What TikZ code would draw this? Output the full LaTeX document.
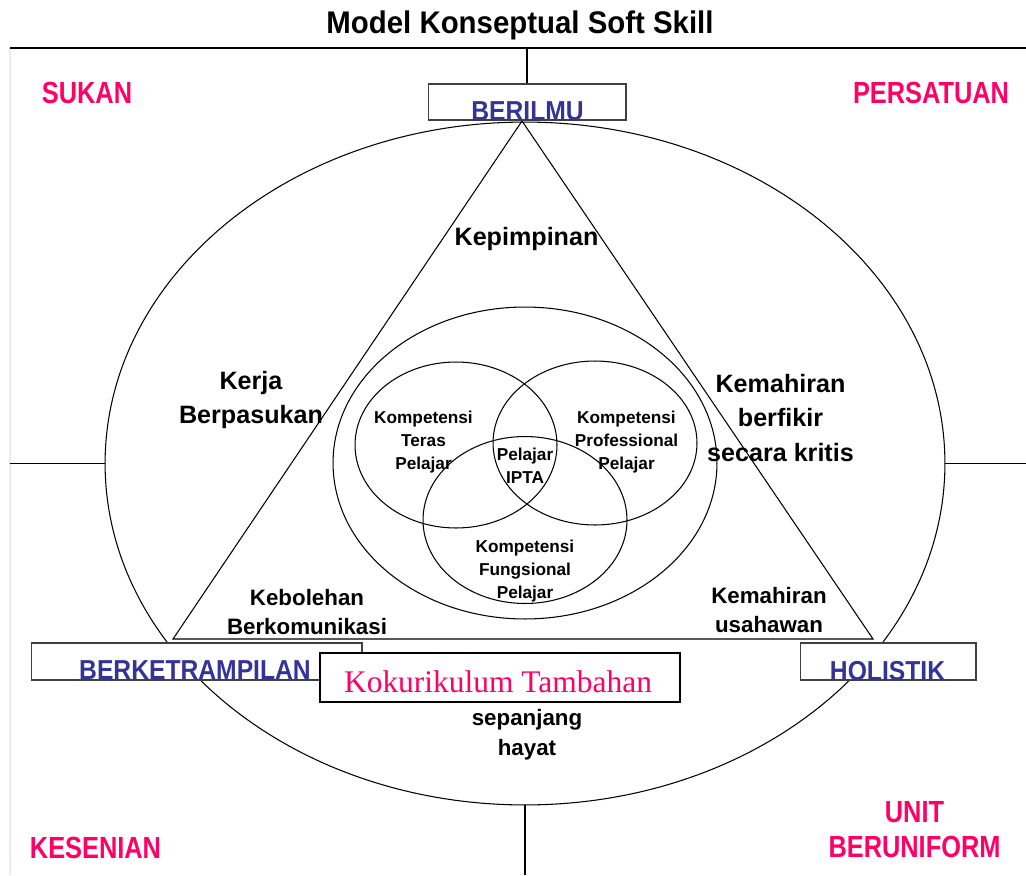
\documentclass[tikz,border=0pt]{standalone}
\usepackage{fontspec}
\setmainfont{Liberation Sans}
\newfontfamily\narrowfont[FakeStretch=0.83]{Liberation Sans}
\newfontfamily\bluefont[FakeStretch=0.9]{Liberation Sans}
\newfontfamily\titlefont[FakeStretch=0.94]{Liberation Sans}
\newfontfamily\kokufont{Liberation Serif}
\usetikzlibrary{shapes.geometric}
\definecolor{kpink}{HTML}{FF0066}
\definecolor{kblue}{HTML}{333399}
\tikzset{
	thinline/.style={line width=0.6pt},
	ring/.style={draw, ellipse, inner sep=0pt, line width=0.6pt},
	labelbox/.style={draw=black!75, fill=white, line width=0.6pt, inner sep=0pt},
	kokubox/.style={draw, fill=white, line width=1.1pt, inner sep=0pt},
	titlelbl/.style={font=\titlefont\bfseries\fontsize{17.8}{20}\selectfont, inner sep=0pt},
	redlbl/.style={font=\narrowfont\bfseries\fontsize{17.4}{19.8}\selectfont, text=kpink, align=center, inner sep=0pt},
	bluelbl/.style={font=\bluefont\bfseries\fontsize{15.6}{18}\selectfont, text=kblue, inner sep=0pt},
	mainlbl/.style={font=\bfseries\fontsize{14.3}{19.8}\selectfont, align=center, inner sep=0pt},
	smalllbl/.style={font=\bfseries\fontsize{12.7}{17}\selectfont, align=center, inner sep=0pt},
	vennlbl/.style={font=\bfseries\fontsize{9.8}{13.3}\selectfont, align=center, inner sep=0pt},
	kokulbl/.style={font=\kokufont\fontsize{17.9}{20}\selectfont, text=kpink, inner sep=0pt}
}
\begin{document}
\begin{tikzpicture}[x=0.02cm,y=-0.02cm]
	\useasboundingbox (0,0) rectangle (1026,875);
	\node[titlelbl, anchor=base] (title) at (520,34) {Model Konseptual Soft Skill};
	\coordinate (tl) at (10,48);
	\coordinate (tr) at (1026,48);
	\coordinate (bl0) at (10,875);
	\draw[black!8, line width=0.6pt] (tl) -- (bl0);
	\draw[thinline] (tl) -- (tr);

	% ellipses and venn
	\node[ring, minimum width=16.8cm, minimum height=13.66cm] (outer) at (525,463.5) {};
	\node[ring, minimum width=7.68cm, minimum height=6.24cm] (inner) at (525,463) {};
	\node[ring, minimum width=4.04cm, minimum height=3.32cm] (teras) at (456,445) {};
	\node[ring, minimum width=4.08cm, minimum height=3.28cm] (prof) at (595,443) {};
	\node[ring, minimum width=4.08cm, minimum height=3.34cm] (fungsi) at (525,520) {};

	% triangle
	\coordinate (apex) at (522,121);
	\coordinate (tbl) at (173,639);
	\coordinate (tbr) at (873,639);
	\draw[thinline] (apex) -- (tbl) -- (tbr) -- cycle;

	% cross lines
	\coordinate (wl) at (10,463.5);
	\coordinate (wr) at (1026,463.5);
	\coordinate (bm) at (525,875);
	\draw[thinline] (outer.west) -- (wl);
	\draw[thinline] (outer.east) -- (wr);
	\draw[thinline] (outer.south) -- (bm);

	% boxes
	\node[labelbox, minimum width=3.96cm, minimum height=0.72cm] (berilmu) at (527,102) {};
	\draw[thinline] (berilmu.north) -- (berilmu.north |- tl);
	\node[labelbox, minimum width=6.62cm, minimum height=0.74cm] (trampil) at (196.5,661.5) {};
	\node[labelbox, minimum width=3.52cm, minimum height=0.74cm] (holis) at (888,661.5) {};
	\node[kokubox, minimum width=7.2cm, minimum height=0.98cm] (koku) at (500,677.5) {};

	\node[bluelbl, anchor=base] (berilmutxt) at (527.5,120) {BERILMU};
	\node[bluelbl, anchor=base] (trampiltxt) at (195,679) {BERKETRAMPILAN};
	\node[bluelbl, anchor=base] (holistxt) at (887.5,680) {HOLISTIK};
	\node[kokulbl, anchor=base] (kokutxt) at (498,692) {Kokurikulum Tambahan};

	% corner labels
	\node[redlbl, anchor=base] (sukan) at (87,103) {SUKAN};
	\node[redlbl, anchor=base] (persatuan) at (931,103) {PERSATUAN};
	\node[redlbl, anchor=base] (kesenian) at (95.5,858) {KESENIAN};
	\node[redlbl] (unit) at (914.5,830) {UNIT\\BERUNIFORM};

	% skills
	\node[mainlbl, anchor=base] (pimpin) at (526.5,245) {Kepimpinan};
	\node[mainlbl] (kerja) at (251,400) {Kerja\\Berpasukan};
	\node[mainlbl] (kritis) at (780.5,418) {Kemahiran\\berfikir\\secara kritis};
	\node[smalllbl] (komunikasi) at (307,612) {Kebolehan\\Berkomunikasi};
	\node[smalllbl] (usahawan) at (769,610) {Kemahiran\\usahawan};
	\node[smalllbl] (hayat) at (527,735) {sepanjang\\hayat};

	% venn text
	\node[vennlbl] (terastxt) at (423.5,442) {Kompetensi\\Teras\\Pelajar};
	\node[vennlbl] (proftxt) at (626.5,442) {Kompetensi\\Professional\\Pelajar};
	\node[vennlbl] (ipta) at (525,466) {Pelajar\\IPTA};
	\node[vennlbl] (fungsitxt) at (525,571) {Kompetensi\\Fungsional\\Pelajar};
\end{tikzpicture}
\end{document}
